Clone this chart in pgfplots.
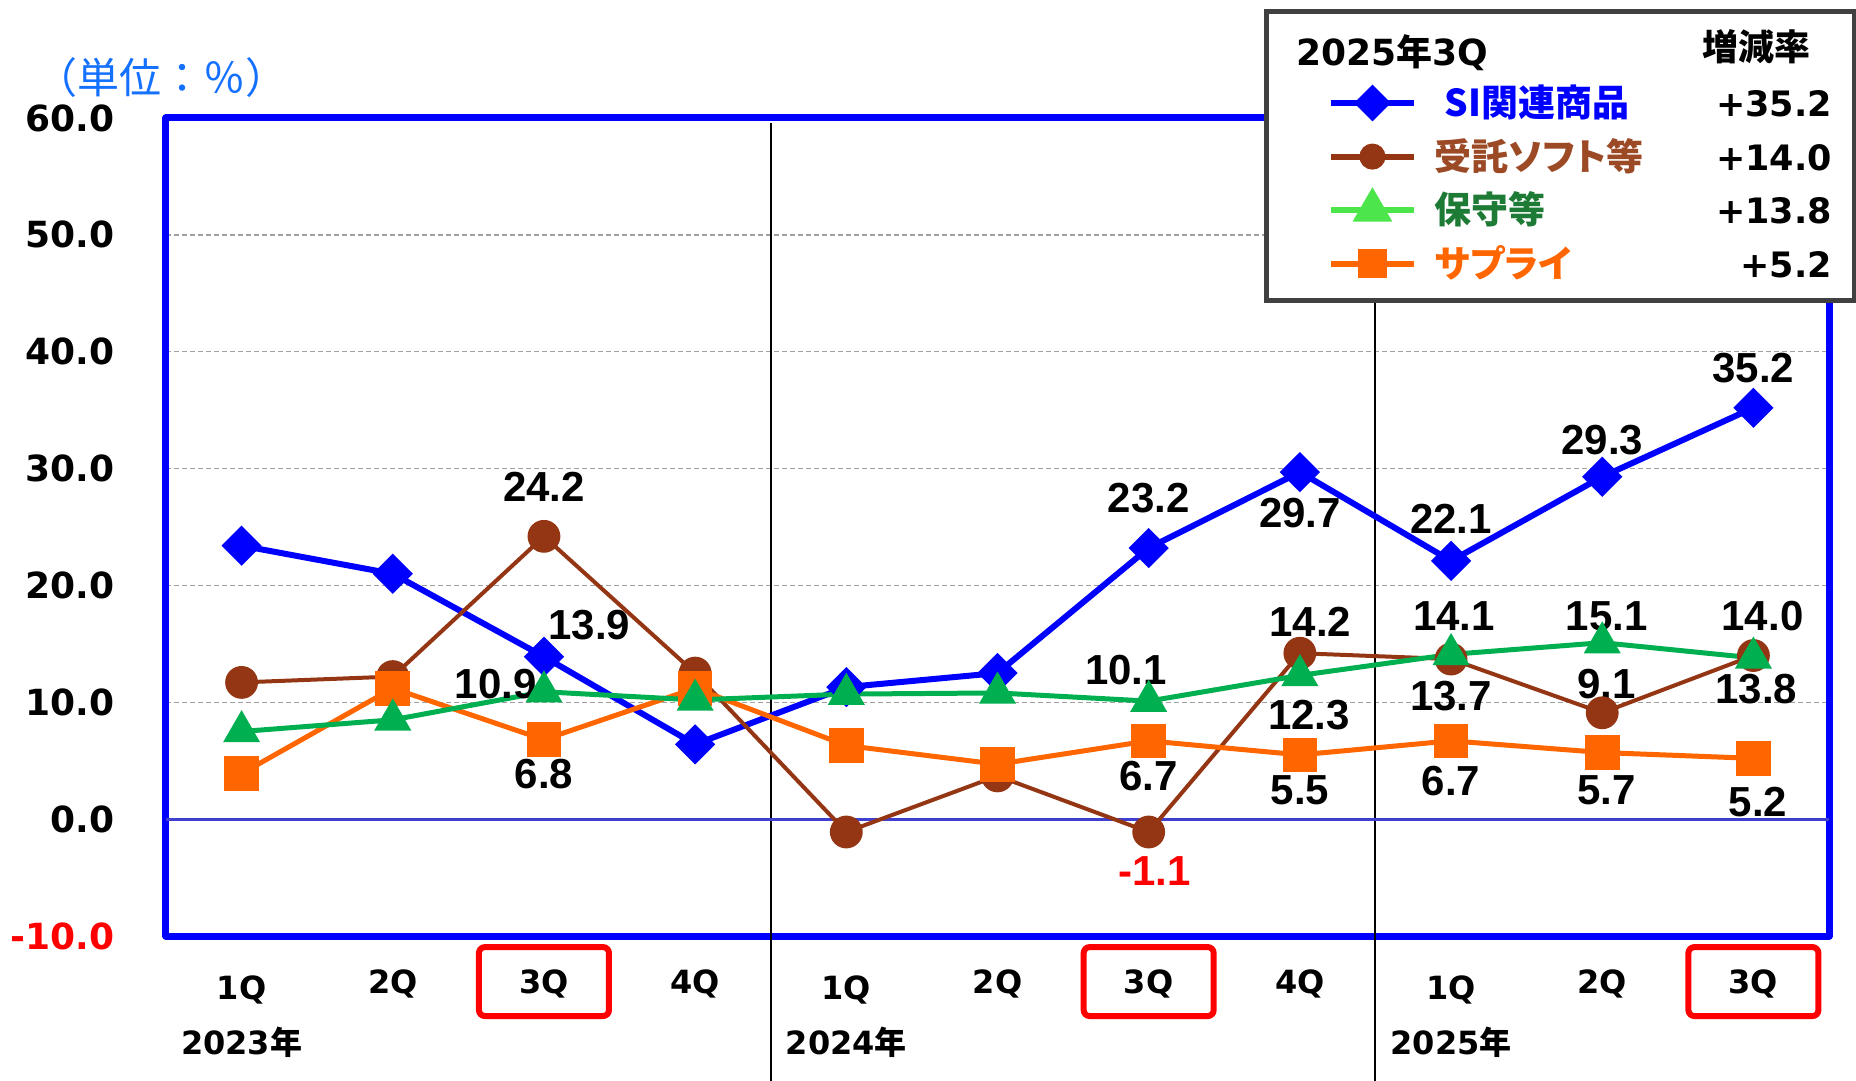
\documentclass[border=0pt]{standalone}
\usepackage{pgfplots}
\pgfplotsset{compat=1.18}
\usepackage{fontspec}
\setmainfont{DejaVu Sans}
\newfontfamily\arial{Liberation Sans}
\newfontfamily\jp{Noto Sans CJK JP}
\newfontfamily\jpp{Noto Sans CJK JP}[RawFeature=+palt]
\definecolor{siblue}{HTML}{0000FF}
\definecolor{brownc}{HTML}{943614}
\definecolor{greenc}{HTML}{00B050}
\definecolor{orangec}{HTML}{FF6600}
\definecolor{lgreen}{HTML}{4CE64C}
\definecolor{tgreen}{HTML}{1E7B36}
\definecolor{tbrown}{HTML}{9C4A26}
\definecolor{unitblue}{HTML}{1470FF}
\definecolor{zeroblue}{HTML}{4040D0}
\definecolor{lgray}{HTML}{404040}
\definecolor{gridgray}{HTML}{A0A0A0}
\tikzset{lbl/.style={font=\arial\bfseries\fontsize{21bp}{21bp}\selectfont, inner sep=0pt},
  rbox/.style={red, line width=3bp, rounded corners=3bp}}
\begin{document}
\begin{tikzpicture}
\useasboundingbox (-83bp,-72.5bp) rectangle (845bp,468bp);
\begin{axis}[
  at={(0,0)}, anchor=south west,
  scale only axis, width=831.5bp, height=409bp,
  xmin=-0.5, xmax=10.5, ymin=-10, ymax=60,
  xtick={0,...,10},
  xticklabels={\raisebox{-3bp}{1Q},2Q,3Q,4Q,\raisebox{-3bp}{1Q},2Q,3Q,4Q,\raisebox{-3bp}{1Q},2Q,3Q},
  xticklabel style={font=\bfseries\fontsize{16bp}{16bp}\selectfont, anchor=base, inner sep=0pt, yshift=-28.8bp},
  ytick={-10,0,10,20,30,40,50,60},
  yticklabels={{\textcolor{red}{-10.0}},0.0,10.0,20.0,30.0,40.0,50.0,60.0},
  yticklabel style={font=\bfseries\fontsize{18bp}{18bp}\selectfont, anchor=east, inner sep=0pt, xshift=-25.5bp},
  major tick length=0pt,
  ymajorgrids,
  grid style={color=gridgray, line width=0.75bp, dash pattern=on 2.5bp off 1.5bp},
  axis line style={draw=siblue, line width=3.5bp, line join=round},
  clip=false,
  legend image code/.code={\draw[mark repeat=2, mark phase=2, #1] plot coordinates {(0bp,0bp) (20.75bp,0bp) (41.5bp,0bp)};},
  legend style={draw=none, fill=none, at={(0.6987,1.0511)}, anchor=north west,
    inner sep=0pt, outer sep=0pt, row sep=0pt, column sep=9bp,
    nodes={inner sep=0pt, text height=20.2bp, text depth=6.6bp, anchor=west}},
  legend cell align=left,
]
% separators
\draw[black, line width=1bp] (axis cs:3.5,59.6) -- (axis cs:3.5,-22.4);
\draw[black, line width=1bp] (axis cs:7.5,59.6) -- (axis cs:7.5,-22.4);
% zero line
\draw[zeroblue, line width=1.5bp] (axis cs:-0.5,0) -- (axis cs:10.5,0);

\addplot[forget plot, color=siblue, line width=3bp, mark=square*, mark size=5.6bp, mark options={rotate=45, solid}]
  coordinates {(0,23.4) (1,21.0) (2,13.9) (3,6.4) (4,11.3) (5,12.5) (6,23.2) (7,29.7) (8,22.1) (9,29.3) (10,35.2)};
\addplot[forget plot, color=brownc, line width=2bp, mark=*, mark size=7.2bp, mark options={solid}]
  coordinates {(0,11.7) (1,12.2) (2,24.2) (3,12.5) (4,-1.1) (5,3.7) (6,-1.1) (7,14.2) (8,13.7) (9,9.1) (10,14.0)};
\addplot[forget plot, color=orangec, line width=2.5bp, mark=square*, mark size=7.4bp, mark options={solid}]
  coordinates {(0,3.9) (1,11.2) (2,6.8) (3,11.2) (4,6.3) (5,4.7) (6,6.7) (7,5.5) (8,6.7) (9,5.7) (10,5.2)};
\addplot[forget plot, color=greenc, line width=2.5bp, mark=triangle*, mark size=8.2bp, mark options={solid}]
  coordinates {(0,7.5) (1,8.5) (2,10.9) (3,10.2) (4,10.7) (5,10.8) (6,10.1) (7,12.3) (8,14.1) (9,15.1) (10,13.8)};

% data labels
\node[lbl] at (axis cs:2,28.4) {24.2};
\node[lbl] at (axis cs:2.30,16.6) {13.9};
\node[lbl] at (axis cs:1.68,11.55) {10.9};
\node[lbl] at (axis cs:2,3.85) {6.8};
\node[lbl] at (axis cs:6,27.5) {23.2};
\node[lbl] at (axis cs:5.85,12.77) {10.1};
\node[lbl] at (axis cs:6,3.65) {6.7};
\node[lbl, text=red] at (axis cs:6.04,-4.46) {-1.1};
\node[lbl] at (axis cs:7,26.2) {29.7};
\node[lbl] at (axis cs:7.07,16.9) {14.2};
\node[lbl] at (axis cs:7.06,8.9) {12.3};
\node[lbl] at (axis cs:7,2.43) {5.5};
\node[lbl] at (axis cs:8,25.7) {22.1};
\node[lbl] at (axis cs:8.02,17.4) {14.1};
\node[lbl] at (axis cs:8,10.5) {13.7};
\node[lbl] at (axis cs:8,3.24) {6.7};
\node[lbl] at (axis cs:9,32.4) {29.3};
\node[lbl] at (axis cs:9.03,17.4) {15.1};
\node[lbl] at (axis cs:9.03,11.55) {9.1};
\node[lbl] at (axis cs:9.03,2.43) {5.7};
\node[lbl] at (axis cs:10,38.6) {35.2};
\node[lbl] at (axis cs:10.06,17.4) {14.0};
\node[lbl] at (axis cs:10.02,11.1) {13.8};
\node[lbl] at (axis cs:10.03,1.5) {5.2};

% year labels
\node[font=\bfseries\fontsize{16bp}{16bp}\selectfont, inner sep=0pt] at (axis cs:0,-19.1) {2023{\jp 年}};
\node[font=\bfseries\fontsize{16bp}{16bp}\selectfont, inner sep=0pt] at (axis cs:4,-19.1) {2024{\jp 年}};
\node[font=\bfseries\fontsize{16bp}{16bp}\selectfont, inner sep=0pt] at (axis cs:8,-19.1) {2025{\jp 年}};

% red boxes around 3Q
\draw[rbox] ([xshift=-32.5bp,yshift=-17.25bp]axis cs:2,-13.9) rectangle ([xshift=32.5bp,yshift=17.25bp]axis cs:2,-13.9);
\draw[rbox] ([xshift=-32.5bp,yshift=-17.25bp]axis cs:6,-13.9) rectangle ([xshift=32.5bp,yshift=17.25bp]axis cs:6,-13.9);
\draw[rbox] ([xshift=-32.5bp,yshift=-17.25bp]axis cs:10,-13.9) rectangle ([xshift=32.5bp,yshift=17.25bp]axis cs:10,-13.9);

% unit label
\node[anchor=west, font=\jp\fontsize{21bp}{21bp}\selectfont, text=unitblue, inner sep=0pt] at (rel axis cs:-0.0788,1.050) {（単位：％）};

% legend box
\draw[lgray, line width=2.5bp, fill=white] (rel axis cs:0.662,0.7775) rectangle (rel axis cs:1.0156,1.1296);
\node[anchor=west, font=\bfseries\fontsize{18bp}{18bp}\selectfont, inner sep=0pt] at (rel axis cs:0.6795,1.0795) {2025{\jp 年}3Q};
\node[anchor=east, font=\jp\bfseries\fontsize{18bp}{18bp}\selectfont, inner sep=0pt] at (rel axis cs:0.9892,1.0868) {増減率};

\addlegendimage{color=siblue, line width=3bp, mark=square*, mark size=5bp, mark options={rotate=45, solid}}
\addlegendentry{\makebox[198.5bp][l]{\hspace{5bp}\jpp\bfseries\fontsize{18.5bp}{18.5bp}\selectfont\color{siblue}SI関連商品\hfill\normalfont\bfseries\fontsize{17.5bp}{17.5bp}\selectfont\color{black}+35.2}}
\addlegendimage{color=brownc, line width=3bp, mark=*, mark size=5bp, mark options={solid}}
\addlegendentry{\makebox[198.5bp][l]{\jpp\bfseries\fontsize{18.5bp}{18.5bp}\selectfont\color{tbrown}受託ソフト等\hfill\normalfont\bfseries\fontsize{17.5bp}{17.5bp}\selectfont\color{black}+14.0}}
\addlegendimage{color=lgreen, line width=3bp, mark=triangle*, mark size=8.5bp, mark options={solid}}
\addlegendentry{\makebox[198.5bp][l]{\jpp\bfseries\fontsize{18.5bp}{18.5bp}\selectfont\color{tgreen}保守等\hfill\normalfont\bfseries\fontsize{17.5bp}{17.5bp}\selectfont\color{black}+13.8}}
\addlegendimage{color=orangec, line width=3bp, mark=square*, mark size=5.8bp, mark options={solid}}
\addlegendentry{\makebox[198.5bp][l]{\jpp\bfseries\fontsize{18.5bp}{18.5bp}\selectfont\color{orangec}サプライ\hfill\normalfont\bfseries\fontsize{17.5bp}{17.5bp}\selectfont\color{black}+5.2}}
\end{axis}
\end{tikzpicture}
\end{document}
